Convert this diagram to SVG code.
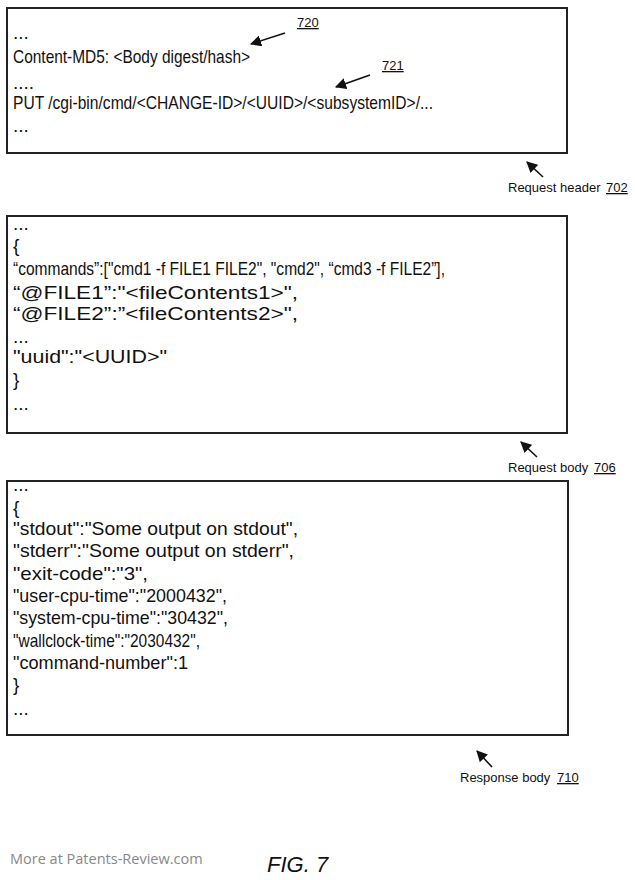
<svg xmlns="http://www.w3.org/2000/svg" width="635" height="880" viewBox="0 0 635 880">
<style>
text{font-family:"Liberation Sans",Arial,sans-serif;font-size:19px;fill:#111}
.box{fill:#fff;stroke:#222;stroke-width:2}
.lbl{font-size:13px}
.con{stroke:#111;stroke-width:1.6;fill:none;marker-end:url(#ah)}
</style>
<defs><marker id="ah" viewBox="0 0 10 10" refX="9" refY="5" markerWidth="7" markerHeight="7" orient="auto"><path d="M0,0 L10,5 L0,10 z" fill="#111"/></marker></defs>
<rect width="635" height="880" fill="#fff"/>
<g id="header702">
<rect class="box" x="7" y="8" width="560" height="145"/>
<text x="13" y="39">...</text>
<text x="13" y="63" textLength="237" lengthAdjust="spacingAndGlyphs">Content-MD5: &lt;Body digest/hash&gt;</text>
<text x="13" y="89">....</text>
<text x="13" y="109" textLength="420" lengthAdjust="spacingAndGlyphs">PUT /cgi-bin/cmd/&lt;CHANGE-ID&gt;/&lt;UUID&gt;/&lt;subsystemID&gt;/...</text>
<text x="13" y="132">...</text>
<text class="lbl" x="297" y="27" text-decoration="underline">720</text>
<text class="lbl" x="382" y="70" text-decoration="underline">721</text>
<text class="lbl" x="508" y="192">Request header</text>
<text class="lbl" x="606" y="192" text-decoration="underline">702</text>
</g>
<g id="body706">
<rect class="box" x="7" y="216" width="560" height="217"/>
<text x="13" y="230">...</text>
<text x="13" y="252">{</text>
<text x="13" y="275" textLength="432" lengthAdjust="spacingAndGlyphs">“commands”:["cmd1 -f FILE1 FILE2", "cmd2", “cmd3 -f FILE2”],</text>
<text x="13" y="299" textLength="285" lengthAdjust="spacingAndGlyphs">“@FILE1”:"&lt;fileContents1&gt;",</text>
<text x="13" y="320" textLength="285" lengthAdjust="spacingAndGlyphs">“@FILE2”:”&lt;fileContents2&gt;",</text>
<text x="13" y="343">...</text>
<text x="13" y="363" textLength="154" lengthAdjust="spacingAndGlyphs">"uuid":"&lt;UUID&gt;"</text>
<text x="13" y="386">}</text>
<text x="13" y="410">...</text>
<text class="lbl" x="508" y="472">Request body</text>
<text class="lbl" x="594" y="472" text-decoration="underline">706</text>
</g>
<g id="body710">
<rect class="box" x="7" y="481" width="561" height="254"/>
<text x="13" y="491">...</text>
<text x="13" y="514">{</text>
<text x="13" y="535" textLength="285" lengthAdjust="spacingAndGlyphs">"stdout":"Some output on stdout",</text>
<text x="13" y="557" textLength="281" lengthAdjust="spacingAndGlyphs">"stderr":"Some output on stderr",</text>
<text x="13" y="580" textLength="135" lengthAdjust="spacingAndGlyphs">"exit-code":"3",</text>
<text x="13" y="602" textLength="214" lengthAdjust="spacingAndGlyphs">"user-cpu-time":"2000432",</text>
<text x="13" y="624" textLength="215" lengthAdjust="spacingAndGlyphs">"system-cpu-time":"30432",</text>
<text x="13" y="647" textLength="187" lengthAdjust="spacingAndGlyphs">"wallclock-time":"2030432",</text>
<text x="13" y="669" textLength="175" lengthAdjust="spacingAndGlyphs">"command-number":1</text>
<text x="13" y="691">}</text>
<text x="13" y="715">...</text>
<text class="lbl" x="460" y="782">Response body</text>
<text class="lbl" x="557" y="782" text-decoration="underline">710</text>
</g>
<g id="connectors">
<line class="con" x1="285" y1="33" x2="251" y2="44"/>
<line class="con" x1="370" y1="75" x2="336" y2="87"/>
<line class="con" x1="543" y1="177" x2="527" y2="162"/>
<line class="con" x1="537" y1="457" x2="521" y2="442"/>
<line class="con" x1="492" y1="767" x2="477" y2="751"/>
</g>
<text x="10" y="864" style="fill:#888;font-family:'Open Sans',sans-serif;font-size:14.5px">More at Patents-Review.com</text>
<text x="267" y="872" style="font-size:22px;font-style:italic">FIG. 7</text>
</svg>
